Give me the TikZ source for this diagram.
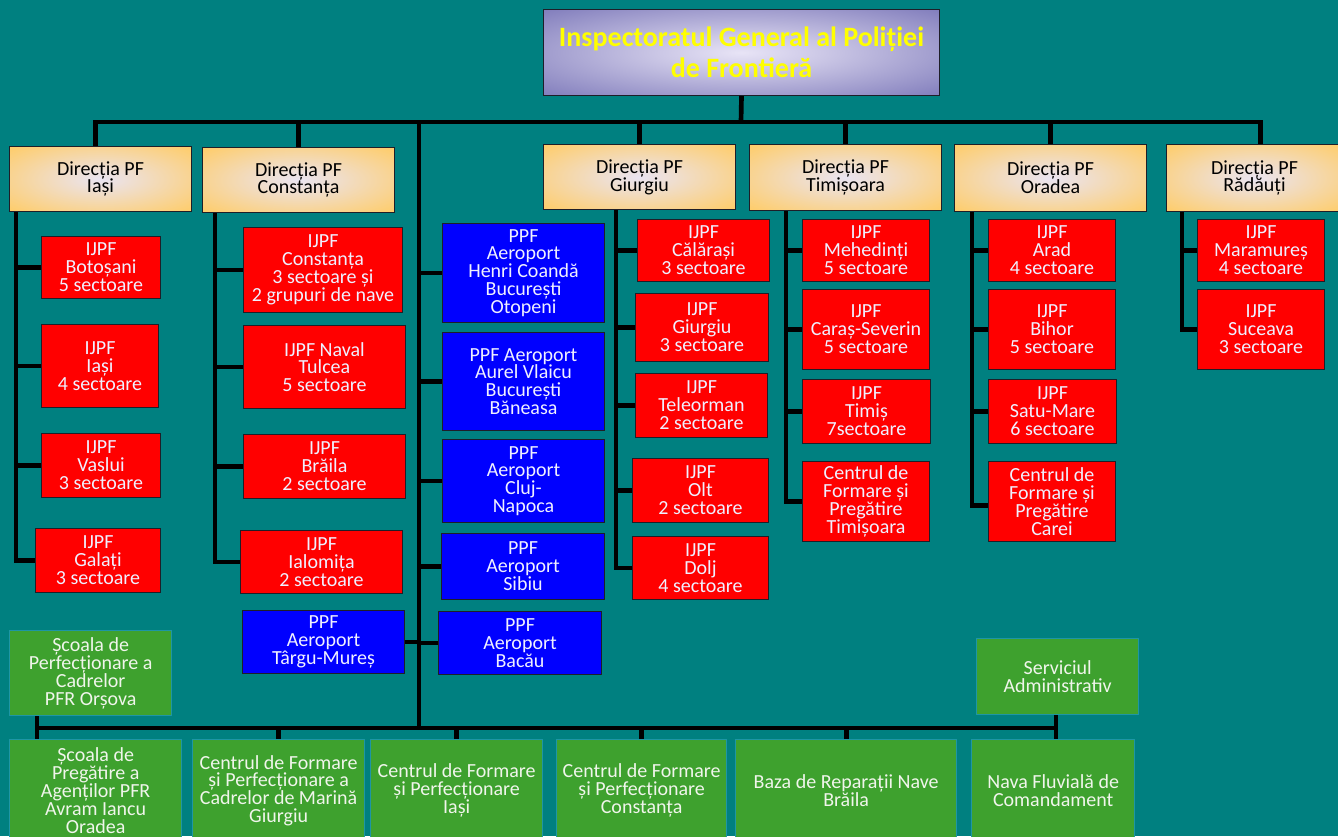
\documentclass[tikz,border=0pt]{standalone}
\usepackage{fontspec}
\setmainfont{Carlito}
\usepackage{tikz}

\definecolor{pfteal}{RGB}{0,128,128}
\definecolor{ijpfred}{RGB}{255,0,0}
\definecolor{ppfblue}{RGB}{0,0,255}
\definecolor{scoalagreen}{RGB}{62,161,46}
\definecolor{greenedge}{RGB}{30,150,165}
\definecolor{boxedge}{RGB}{30,30,40}
\definecolor{boxtext}{RGB}{240,240,255}
\definecolor{greentext}{RGB}{240,245,235}
\definecolor{dirorange}{RGB}{255,204,102}
\definecolor{dirglow}{RGB}{234,228,242}
\definecolor{igpfpurple}{RGB}{122,118,184}
\definecolor{igpfglow}{RGB}{232,228,246}
\definecolor{titleyellow}{RGB}{255,255,0}

\pgfdeclareradialshading{dirshade}{\pgfpoint{0bp}{0bp}}{color(0bp)=(dirglow); color(11bp)=(dirglow!70!dirorange); color(36bp)=(dirorange); color(50bp)=(dirorange)}
\pgfdeclareradialshading{igpfshade}{\pgfpoint{0bp}{0bp}}{color(0bp)=(igpfglow); color(10bp)=(igpfglow!75!igpfpurple); color(38bp)=(igpfpurple); color(50bp)=(igpfpurple)}

\newcommand{\boxfont}{\fontsize{15}{13.4}\selectfont}
\newcommand{\titlefont}{\fontsize{21}{23}\bfseries\selectfont}

\begin{document}
\begin{tikzpicture}[x=0.75pt,y=-0.75pt]
\tikzset{wire/.style = {line width=3.5pt, draw=black}}
\tikzset{wh/.style 2 args = {minimum width=#1*0.75pt, minimum height=#2*0.75pt}}
\tikzset{orgbox/.style = {anchor=north west, draw, line width=0.75pt, align=center, inner sep=0pt, text=boxtext, font=\boxfont}}
\tikzset{ijpf/.style = {orgbox, fill=ijpfred, draw=boxedge}}
\tikzset{ppf/.style = {orgbox, fill=ppfblue, draw=boxedge}}
\tikzset{scoala/.style = {orgbox, fill=scoalagreen, draw=greenedge, line width=1pt, text=greentext}}
\tikzset{directie/.style = {orgbox, draw=boxedge, text=black, shading=dirshade}}

\useasboundingbox (0,0) rectangle (1338,836);
\clip (0,0) rectangle (1338,836);
\fill[pfteal] (0,0) rectangle (1338,836);

% conducere
\node[orgbox, wh={396}{86}, draw=boxedge, shading=igpfshade,
  text=titleyellow, font=\titlefont] (igpf) at (543,9) {Inspectoratul General al Poliției\\de Frontieră};

% directii
\node[directie, wh={182}{65}] (dIasi) at (9,146) {Direcția PF\\Iași};
\node[directie, wh={192}{65}] (dConstanta) at (202,147) {Direcția PF\\Constanța};
\node[directie, wh={192}{65}] (dGiurgiu) at (543,144) {Direcția PF\\Giurgiu};
\node[directie, wh={192}{66}] (dTimisoara) at (749,144) {Direcția PF\\Timișoara};
\node[directie, wh={192}{67}] (dOradea) at (954,144) {Direcția PF\\Oradea};
\node[directie, wh={176}{67}] (dRadauti) at (1166,144) {Direcția PF\\Rădăuți};

% Iasi
\node[ijpf, wh={119}{62}] (botosani) at (41,236) {IJPF\\Botoșani\\5 sectoare};
\node[ijpf, wh={117}{83}] (ijpfIasi) at (41,324) {IJPF\\Iași\\4 sectoare};
\node[ijpf, wh={119}{64}] (vaslui) at (41,433) {IJPF\\Vaslui\\3 sectoare};
\node[ijpf, wh={125}{64}] (galati) at (35,528) {IJPF\\Galați\\3 sectoare};

% Constanta
\node[ijpf, wh={159}{85}] (ijpfConstanta) at (243,227) {IJPF\\Constanța\\3 sectoare și\\2 grupuri de nave};
\node[ijpf, wh={162}{83}] (tulcea) at (243,325) {IJPF Naval\\Tulcea\\5 sectoare};
\node[ijpf, wh={162}{64}] (braila) at (243,434) {IJPF\\Brăila\\2 sectoare};
\node[ijpf, wh={162}{63}] (ialomita) at (240,530) {IJPF\\Ialomița\\2 sectoare};
\node[ppf, wh={162}{63}] (tgMures) at (242,610) {PPF\\Aeroport\\Târgu-Mureș};

% aeroporturi
\node[ppf, wh={162}{99}] (otopeni) at (442,223) {PPF\\Aeroport\\Henri Coandă\\București\\Otopeni};
\node[ppf, wh={162}{98}] (baneasa) at (442,332) {PPF Aeroport\\Aurel Vlaicu\\București\\Băneasa};
\node[ppf, wh={162}{83}] (cluj) at (442,439) {PPF\\Aeroport\\Cluj-\\Napoca};
\node[ppf, wh={163}{66}] (sibiu) at (441,533) {PPF\\Aeroport\\Sibiu};
\node[ppf, wh={163}{63}] (bacau) at (438,611) {PPF\\Aeroport\\Bacău};

% Giurgiu
\node[ijpf, wh={132}{62}] (calarasi) at (637,219) {IJPF\\Călărași\\3 sectoare};
\node[ijpf, wh={133}{68}] (ijpfGiurgiu) at (635,293) {IJPF\\Giurgiu\\3 sectoare};
\node[ijpf, wh={132}{64}] (teleorman) at (635,373) {IJPF\\Teleorman\\2 sectoare};
\node[ijpf, wh={136}{64}] (olt) at (632,458) {IJPF\\Olt\\2 sectoare};
\node[ijpf, wh={136}{63}] (dolj) at (632,536) {IJPF\\Dolj\\4 sectoare};

% Timisoara
\node[ijpf, wh={127}{62}] (mehedinti) at (802,219) {IJPF\\Mehedinți\\5 sectoare};
\node[ijpf, wh={127}{80}] (carasSeverin) at (802,289) {IJPF\\Caraș-Severin\\5 sectoare};
\node[ijpf, wh={128}{64}] (timis) at (802,379) {IJPF\\Timiș\\7sectoare};
\node[ijpf, wh={127}{80}] (centruTm) at (802,461) {Centrul de\\Formare și\\Pregătire\\Timișoara};

% Oradea
\node[ijpf, wh={127}{62}] (arad) at (988,219) {IJPF\\Arad\\4 sectoare};
\node[ijpf, wh={127}{80}] (bihor) at (988,289) {IJPF\\Bihor\\5 sectoare};
\node[ijpf, wh={128}{64}] (satuMare) at (988,379) {IJPF\\Satu-Mare\\6 sectoare};
\node[ijpf, wh={127}{80}] (centruCarei) at (988,461) {Centrul de\\Formare și\\Pregătire\\Carei};

% Radauti
\node[ijpf, wh={127}{62}] (maramures) at (1197,219) {IJPF\\Maramureș\\4 sectoare};
\node[ijpf, wh={127}{80}] (suceava) at (1197,289) {IJPF\\Suceava\\3 sectoare};

% scoli si unitati
\node[scoala, wh={162}{85}] (orsova) at (9,630) {Școala de\\Perfecționare a\\Cadrelor\\PFR Orșova};
\node[scoala, wh={162}{76}] (serviciu) at (976,638) {Serviciul\\Administrativ};
\node[scoala, wh={172}{102}] (scoalaOradea) at (9,739) {Școala de\\Pregătire a\\Agenților PFR\\Avram Iancu\\Oradea};
\node[scoala, wh={172}{102}] (cfpGiurgiu) at (192,739) {Centrul de Formare\\și Perfecționare a\\Cadrelor de Marină\\Giurgiu};
\node[scoala, wh={172}{102}] (cfpIasi) at (370,739) {Centrul de Formare\\și Perfecționare\\Iași};
\node[scoala, wh={170}{102}] (cfpConstanta) at (556,739) {Centrul de Formare\\și Perfecționare\\Constanța};
\node[scoala, wh={221}{102}] (bazaBraila) at (735,739) {Baza de Reparații Nave\\Brăila};
\node[scoala, wh={163}{102}] (nava) at (971,739) {Nava Fluvială de\\Comandament};

\coordinate (busC) at (741,122);
\coordinate (trunk) at (419,122);
\coordinate (botL) at (37,728);
\coordinate (botR) at (1056,728);
\coordinate (colIasi) at (16,0);
\coordinate (colConstanta) at (215,0);
\coordinate (colGiurgiu) at (616,0);
\coordinate (colTimisoara) at (786,0);
\coordinate (colOradea) at (972,0);
\coordinate (colRadauti) at (1182,0);

% magistrala de sus
\draw[wire] (igpf.south) to (busC);
\draw[wire] ([xshift=-5*0.75pt]dIasi.north) |- (busC) -| ([xshift=6*0.75pt]dRadauti.north);
\foreach \d in {dConstanta,dGiurgiu,dTimisoara,dOradea}
  \draw[wire] (\d.north) to (\d.north |- busC);
\draw[wire] (trunk) to (trunk |- botL);

% coloane
\draw[wire] (dIasi.south -| colIasi) |- (galati.west);
\foreach \c in {botosani,ijpfIasi,vaslui}
  \draw[wire] (\c.west -| colIasi) to (\c.west);
\draw[wire] (dConstanta.south -| colConstanta) |- (ialomita.west);
\foreach \c in {ijpfConstanta,tulcea,braila}
  \draw[wire] (\c.west -| colConstanta) to (\c.west);
\draw[wire] (dGiurgiu.south -| colGiurgiu) |- (dolj.west);
\foreach \c in {calarasi,ijpfGiurgiu,teleorman,olt}
  \draw[wire] (\c.west -| colGiurgiu) to (\c.west);
\draw[wire] (dTimisoara.south -| colTimisoara) |- (centruTm.west);
\foreach \c in {mehedinti,carasSeverin,timis}
  \draw[wire] (\c.west -| colTimisoara) to (\c.west);
\draw[wire] (dOradea.south -| colOradea) |- ([yshift=-4*0.75pt]centruCarei.west);
\foreach \c in {arad,bihor,satuMare}
  \draw[wire] (\c.west -| colOradea) to (\c.west);
\draw[wire] (dRadauti.south -| colRadauti) |- (suceava.west);
\draw[wire] (maramures.west -| colRadauti) to (maramures.west);

% aeroporturi pe trunchi
\foreach \c in {otopeni,baneasa,cluj,sibiu,bacau}
  \draw[wire] (\c.west -| trunk) to (\c.west);
\draw[wire] (tgMures.east) to (tgMures.east -| trunk);

% magistrala de jos
\draw[wire] (botL) to (botR);
\draw[wire] (orsova.south -| botL) to (scoalaOradea.north -| botL);
\draw[wire] (serviciu.south -| botR) to (nava.north -| botR);
\foreach \c in {cfpGiurgiu,cfpIasi,cfpConstanta,bazaBraila}
  \draw[wire] (\c.north) to (\c.north |- botL);
\end{tikzpicture}
\end{document}
